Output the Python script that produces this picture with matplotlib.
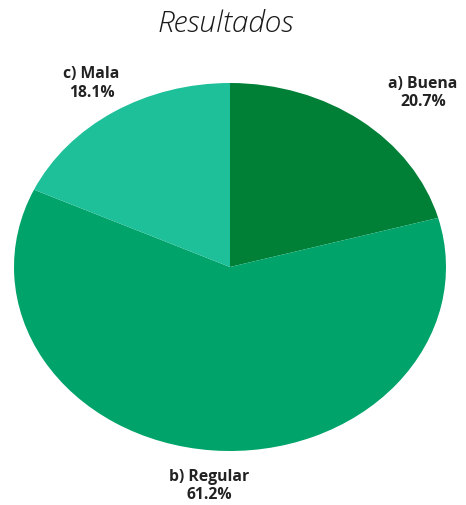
import matplotlib
matplotlib.use("Agg")
import matplotlib.pyplot as plt

categories = ["a) Buena", "b) Regular", "c) Mala"]
values = [20.7, 61.2, 18.1]
colors = ["#008037", "#00A36A", "#1EC09A"]

W, H = 466, 506
fig = plt.figure(figsize=(W / 100, H / 100), dpi=100)
ax = fig.add_axes([14 / W, (H - 452) / H, 432 / W, 368 / H])

labels = [f"{c}\n{v:.1f}%" for c, v in zip(categories, values)]
wedges, texts = ax.pie(values, labels=labels, colors=colors, startangle=90,
                       counterclock=False, labeldistance=1.19,
                       wedgeprops=dict(linewidth=0),
                       textprops=dict(family="Open Sans", weight="bold",
                                      fontsize=11.3, color="#222222",
                                      ha="center", va="center",
                                      linespacing=1.2))
ax.set_aspect("auto")
ax.set_xlim(-1, 1)
ax.set_ylim(-1, 1)
for t in texts:
    t.set_ha("center")
    t.set_va("center")
# first label sits further right in the reference
texts[0].set_position((0.893, 0.95))

fig.text(226 / W, 1 - 24 / H, "Resultados", ha="center", va="center",
         family="Open Sans", style="italic", weight="light", fontsize=21.5,
         color="#1a1a1a")

fig.savefig("out.png", dpi=100)
